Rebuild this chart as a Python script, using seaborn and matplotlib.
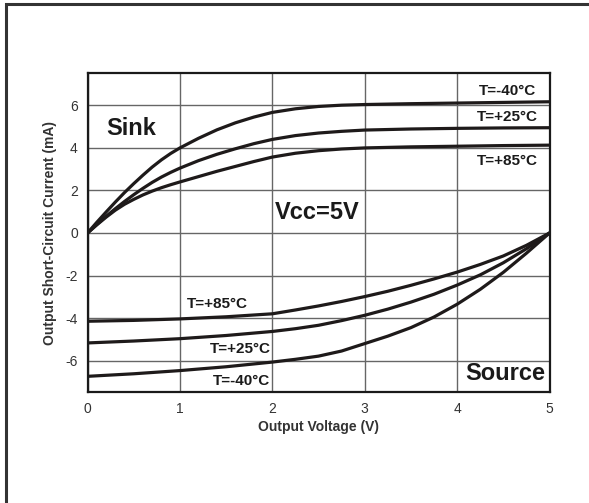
# Output short-circuit current vs output voltage (sink / source)

import matplotlib
matplotlib.use("Agg")
import matplotlib.pyplot as plt
from matplotlib.patches import Rectangle
from matplotlib.ticker import MultipleLocator
import pandas as pd
import seaborn as sns

# values
v_sink = [0, 0.1, 0.2, 0.3, 0.4, 0.5, 0.6, 0.7, 0.8, 0.9, 1.0, 1.2, 1.4, 1.6, 1.8, 2.0,
          2.25, 2.5, 2.75, 3, 3.5, 4, 4.5, 5]
sink_m40 = [0, 0.5, 0.98, 1.45, 1.9, 2.32, 2.72, 3.1, 3.44, 3.74, 4.0, 4.45, 4.85, 5.18,
            5.45, 5.67, 5.84, 5.95, 6.01, 6.04, 6.08, 6.11, 6.14, 6.17]
sink_p25 = [0, 0.4, 0.78, 1.14, 1.48, 1.8, 2.1, 2.38, 2.63, 2.85, 3.05, 3.4, 3.7, 3.96,
            4.2, 4.4, 4.58, 4.7, 4.78, 4.84, 4.89, 4.92, 4.94, 4.95]
sink_p85 = [0, 0.38, 0.74, 1.07, 1.35, 1.58, 1.79, 1.97, 2.13, 2.27, 2.4, 2.65, 2.9, 3.13,
            3.36, 3.57, 3.75, 3.87, 3.95, 4.0, 4.05, 4.08, 4.11, 4.13]

v_source = [0, 0.5, 1, 1.5, 2, 2.25, 2.5, 2.75, 3, 3.25, 3.5, 3.75, 4, 4.25, 4.5, 4.75, 5]
source_p85 = [-4.15, -4.11, -4.04, -3.94, -3.8, -3.62, -3.43, -3.22, -2.99, -2.74, -2.46,
              -2.16, -1.84, -1.48, -1.08, -0.58, 0]
source_p25 = [-5.17, -5.08, -4.97, -4.82, -4.63, -4.5, -4.34, -4.12, -3.87, -3.58, -3.25,
              -2.88, -2.45, -1.97, -1.4, -0.74, 0]
source_m40 = [-6.74, -6.62, -6.47, -6.29, -6.07, -5.94, -5.79, -5.55, -5.2, -4.85, -4.45,
              -3.95, -3.35, -2.65, -1.85, -0.95, 0]

curve_names = ["sink -40", "sink +25", "sink +85", "source +85", "source +25", "source -40"]

sns.set_style("white")
plt.rcParams["font.family"] = ["Liberation Sans", "DejaVu Sans"]
plt.rcParams["axes.unicode_minus"] = False

# build one long table so seaborn can draw each curve
rows = []
for name, xs, ys in zip(curve_names,
                        [v_sink, v_sink, v_sink, v_source, v_source, v_source],
                        [sink_m40, sink_p25, sink_p85, source_p85, source_p25, source_m40]):
    for x, y in zip(xs, ys):
        rows.append({"curve": name, "V": x, "I": y})
data = pd.DataFrame(rows)

fig = plt.figure(figsize=(5.89, 5.03), dpi=100)
ax = fig.add_axes([0.1486, 0.2197, 0.7844, 0.6342])

for name in curve_names:
    sns.lineplot(data=data[data["curve"] == name], x="V", y="I", ax=ax,
                 color="#1e1a1a", linewidth=2.3, sort=False, estimator=None)

ax.set_xlim(0, 5)
ax.set_ylim(-7.5, 7.5)
ax.xaxis.set_major_locator(MultipleLocator(1))
ax.xaxis.set_minor_locator(MultipleLocator(0.5))
ax.yaxis.set_major_locator(MultipleLocator(2))
ax.yaxis.set_minor_locator(MultipleLocator(1))
ax.grid(True, which="major", color="#666666", linewidth=1.0)
ax.tick_params(which="major", length=0, labelsize=10, labelcolor="#333333", pad=7)
ax.tick_params(which="minor", direction="in", length=4, width=1, color="#333333")
for s in ax.spines.values():
    s.set_color("#1a1a1a")
    s.set_linewidth(1.6)

ax.set_xlabel("Output Voltage (V)", fontsize=10, fontweight="bold", color="#333333", labelpad=3)
ax.set_ylabel("Output Short-Circuit Current (mA)", fontsize=10, fontweight="bold", color="#333333", labelpad=6)

# curve labels
lab = dict(fontsize=11, fontweight="bold", color="#1a1a1a", ha="center", va="center")
ax.text(4.55, 6.69, "T=-40°C", **lab)
ax.text(4.54, 5.44, "T=+25°C", **lab)
ax.text(4.54, 3.37, "T=+85°C", **lab)
ax.text(1.40, -3.33, "T=+85°C", **lab)
ax.text(1.65, -5.44, "T=+25°C", **lab)
ax.text(1.67, -6.97, "T=-40°C", **lab)

big = dict(fontsize=17, fontweight="bold", color="#1a1a1a", ha="center", va="center")
ax.text(0.47, 4.89, "Sink", **big)
ax.text(2.49, 0.96, "Vcc=5V", **big)
ax.text(4.52, -6.61, "Source", **big)

# outer frame like the datasheet box
fig.add_artist(Rectangle((6 / 589, -0.1), 1.2, 1.1 - 4 / 503, transform=fig.transFigure,
                         fill=False, edgecolor="#333333", linewidth=2.2))

fig.savefig("out.png", dpi=100)
